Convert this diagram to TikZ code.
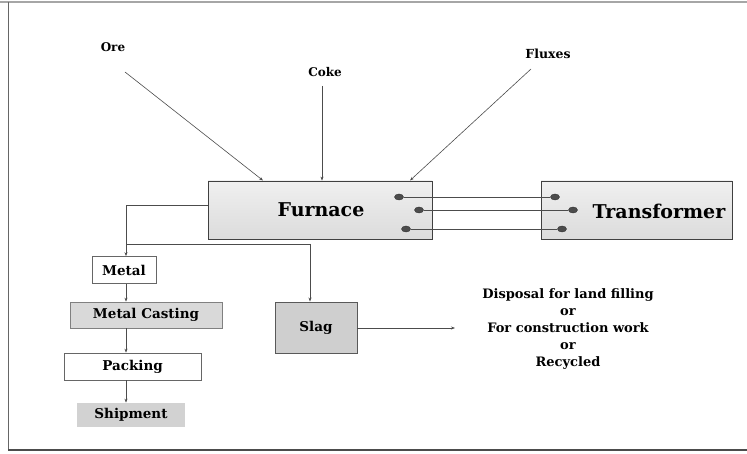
\documentclass[tikz,border=0pt]{standalone}
\usepackage{fontspec}
\setmainfont{DejaVu Serif}
\usetikzlibrary{shapes.geometric,arrows.meta}
\begin{document}
\begin{tikzpicture}[x=1pt,y=-1pt,
  lab/.style={font=\bfseries\fontsize{12}{14}\selectfont, inner sep=0pt},
  bigbox/.style={draw=black!75, line width=0.8pt, top color=gray!12, bottom color=gray!28, inner sep=0pt},
  bigtext/.style={font=\bfseries\fontsize{19}{22}\selectfont, inner sep=0pt},
  smallw/.style={draw=black!60, line width=0.7pt, fill=white, inner sep=0pt, font=\bfseries\fontsize{13.5}{15}\selectfont},
  smallg/.style={draw=black!50, line width=0.7pt, fill=gray!30, inner sep=0pt, font=\bfseries\fontsize{13.5}{15}\selectfont},
  dot/.style={ellipse, fill=black!70, draw=black!80, minimum width=9pt, minimum height=6pt, inner sep=0pt},
  conn/.style={draw=black!70, line width=0.6pt},
  arr/.style={conn, -{Stealth[length=4pt,width=3pt]}}
]
\useasboundingbox (0,0) rectangle (747,454);
% frame
\draw[gray!70, line width=2pt] (0,2) -- (747,2);
\draw[black!60, line width=1pt] (8,2) -- (8,450);
\draw[black!70, line width=1.5pt] (8,450) -- (747,450);

% top labels
\node[lab] (ore) at (113,47) {Ore};
\node[lab] (coke) at (325,72) {Coke};
\node[lab, font=\bfseries\fontsize{12.5}{14}\selectfont] (flux) at (548,54) {Fluxes};
\coordinate (oreS) at (125,72);
\coordinate (cokeS) at (322,86);
\coordinate (fluxS) at (531,69);

% main boxes
\node[bigbox, minimum width=224pt, minimum height=58pt] (furnace) at (320,210) {};
\node[bigtext] (furnaceT) at (321,210) {Furnace};
\node[bigbox, minimum width=191pt, minimum height=58pt] (trans) at (636.5,210) {};
\node[bigtext] (transT) at (659,211) {Transformer};

% input arrows
\draw[arr] (oreS) -- (263,180.5) coordinate (oreE);
\draw[arr] (cokeS) -- (cokeS |- furnace.north);
\draw[arr] (fluxS) -- (410,180.5) coordinate (fluxE);

% electrodes
\node[dot] (f1) at (399,197) {};
\node[dot] (f2) at (419,210) {};
\node[dot] (f3) at (406,229) {};
\node[dot] (t1) at (555,197) {};
\node[dot] (t2) at (573,210) {};
\node[dot] (t3) at (562,229) {};
\draw[conn] (f1) -- (t1);
\draw[conn] (f2) -- (t2);
\draw[conn] (f3) -- (t3);

% product boxes
\node[smallw, minimum width=64pt, minimum height=27pt] (metal) at (124,270) {Metal};
\node[smallg, minimum width=152pt, minimum height=26pt] (cast) at (146,315) {Metal Casting};
\node[smallw, minimum width=137pt, minimum height=27pt] (pack) at (132.5,366.5) {Packing};
\node[smallg, draw=none, fill=gray!35, minimum width=108pt, minimum height=24pt] (ship) at (131,415) {Shipment};
\node[smallg, draw=black!65, line width=0.9pt, fill=gray!38, minimum width=82pt, minimum height=51pt] (slag) at (316,327.5) {Slag};

\coordinate (spine) at (126,205);
\coordinate (branch) at (126,244);
\coordinate (slagx) at (310,244);
\draw[conn] (furnace.west |- spine) -- (spine) -- (branch);
\draw[arr] (branch) -- (spine |- metal.north);
\draw[conn] (branch) -- (slagx);
\draw[arr] (slagx) -- (slagx |- slag.north);
\draw[arr] (spine |- metal.south) -- (spine |- cast.north);
\draw[arr] (spine |- cast.south) -- (spine |- pack.north);
\draw[arr] (spine |- pack.south) -- (spine |- ship.north);

% outcome
\node[font=\bfseries\fontsize{13}{17}\selectfont, align=center, inner sep=0pt] (out) at (568,329) {Disposal for land filling\\or\\For construction work\\or\\Recycled};
\coordinate (outW) at (455,328);
\draw[arr] (slag.east |- outW) -- (outW);
\end{tikzpicture}
\end{document}
